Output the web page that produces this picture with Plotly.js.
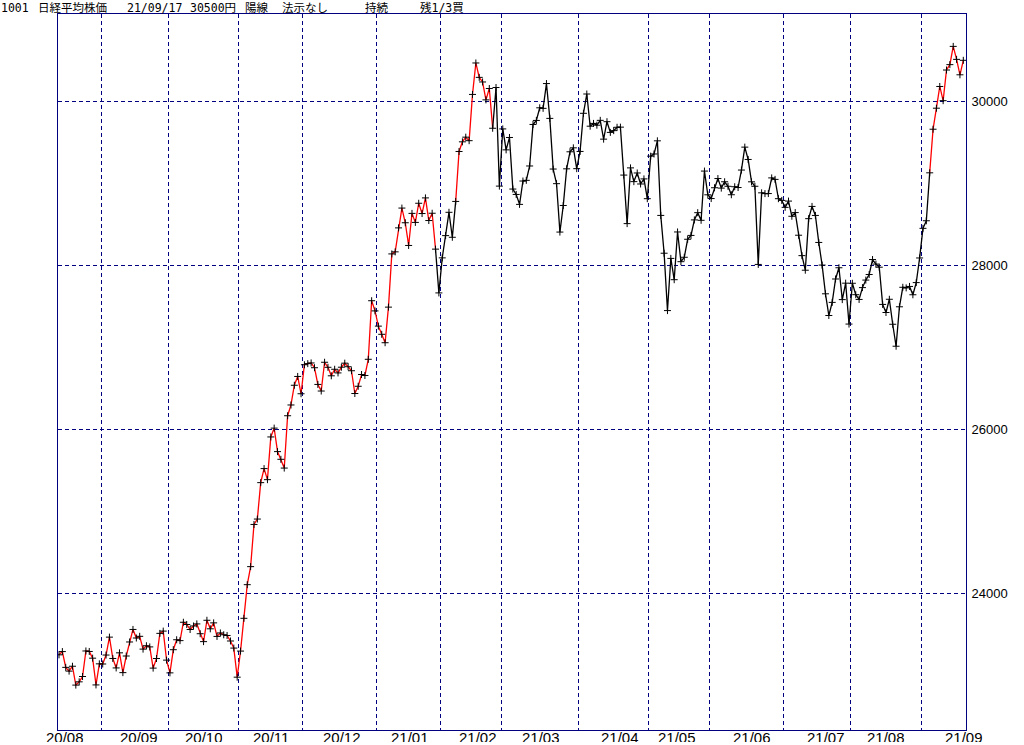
<!DOCTYPE html>
<html>
<head>
<meta charset="utf-8">
<script src="https://cdn.plot.ly/plotly-3.0.1.min.js"></script>
<style>html,body{margin:0;padding:0;background:#fff}#chart{width:1024px;height:745px}</style>
</head>
<body>
<div id="chart"></div>
<script>
// ---- data: Nikkei 225 daily closes (trading days only) ----
const dates = [
"20/08/13","20/08/14","20/08/17","20/08/18","20/08/19","20/08/20","20/08/21","20/08/24","20/08/25","20/08/26","20/08/27","20/08/28","20/08/31",
"20/09/01","20/09/02","20/09/03","20/09/04","20/09/07","20/09/08","20/09/09","20/09/10","20/09/11","20/09/14","20/09/15","20/09/16","20/09/17","20/09/18","20/09/23","20/09/24","20/09/25","20/09/28","20/09/29","20/09/30",
"20/10/02","20/10/05","20/10/06","20/10/07","20/10/08","20/10/09","20/10/12","20/10/13","20/10/14","20/10/15","20/10/16","20/10/19","20/10/20","20/10/21","20/10/22","20/10/23","20/10/26","20/10/27","20/10/28","20/10/29","20/10/30",
"20/11/02","20/11/04","20/11/05","20/11/06","20/11/09","20/11/10","20/11/11","20/11/12","20/11/13","20/11/16","20/11/17","20/11/18","20/11/19","20/11/20","20/11/24","20/11/25","20/11/26","20/11/27","20/11/30",
"20/12/01","20/12/02","20/12/03","20/12/04","20/12/07","20/12/08","20/12/09","20/12/10","20/12/11","20/12/14","20/12/15","20/12/16","20/12/17","20/12/18","20/12/21","20/12/22","20/12/23","20/12/24","20/12/25","20/12/28","20/12/29","20/12/30",
"21/01/04","21/01/05","21/01/06","21/01/07","21/01/08","21/01/12","21/01/13","21/01/14","21/01/15","21/01/18","21/01/19","21/01/20","21/01/21","21/01/22","21/01/25","21/01/26","21/01/27","21/01/28","21/01/29",
"21/02/01","21/02/02","21/02/03","21/02/04","21/02/05","21/02/08","21/02/09","21/02/10","21/02/12","21/02/15","21/02/16","21/02/17","21/02/18","21/02/19","21/02/22","21/02/24","21/02/25","21/02/26",
"21/03/01","21/03/02","21/03/03","21/03/04","21/03/05","21/03/08","21/03/09","21/03/10","21/03/11","21/03/12","21/03/15","21/03/16","21/03/17","21/03/18","21/03/19","21/03/22","21/03/23","21/03/24","21/03/25","21/03/26","21/03/29","21/03/30","21/03/31",
"21/04/01","21/04/02","21/04/05","21/04/06","21/04/07","21/04/08","21/04/09","21/04/12","21/04/13","21/04/14","21/04/15","21/04/16","21/04/19","21/04/20","21/04/21","21/04/22","21/04/23","21/04/26","21/04/27","21/04/28","21/04/30",
"21/05/06","21/05/07","21/05/10","21/05/11","21/05/12","21/05/13","21/05/14","21/05/17","21/05/18","21/05/19","21/05/20","21/05/21","21/05/24","21/05/25","21/05/26","21/05/27","21/05/28","21/05/31",
"21/06/01","21/06/02","21/06/03","21/06/04","21/06/07","21/06/08","21/06/09","21/06/10","21/06/11","21/06/14","21/06/15","21/06/16","21/06/17","21/06/18","21/06/21","21/06/22","21/06/23","21/06/24","21/06/25","21/06/28","21/06/29","21/06/30",
"21/07/01","21/07/02","21/07/05","21/07/06","21/07/07","21/07/08","21/07/09","21/07/12","21/07/13","21/07/14","21/07/15","21/07/16","21/07/19","21/07/20","21/07/21","21/07/26","21/07/27","21/07/28","21/07/29","21/07/30",
"21/08/02","21/08/03","21/08/04","21/08/05","21/08/06","21/08/10","21/08/11","21/08/12","21/08/13","21/08/16","21/08/17","21/08/18","21/08/19","21/08/20","21/08/23","21/08/24","21/08/25","21/08/26","21/08/27","21/08/30","21/08/31",
"21/09/01","21/09/02","21/09/03","21/09/06","21/09/07","21/09/08","21/09/09","21/09/10","21/09/13","21/09/14","21/09/15","21/09/16","21/09/17"
];
const closes = [
23249.61,23289.36,23096.75,23051.08,23110.61,22880.62,22920.30,22985.51,23296.77,23290.86,23208.86,22882.65,23139.76,
23138.07,23247.15,23465.53,23205.43,23089.95,23274.13,23032.54,23235.47,23406.49,23559.30,23454.89,23475.53,23319.37,23360.30,23346.49,23087.82,23204.62,23511.62,23539.10,23185.12,
23029.90,23312.14,23433.73,23422.82,23647.07,23619.69,23558.69,23601.78,23626.73,23507.23,23410.63,23671.13,23567.04,23639.46,23474.27,23516.59,23494.34,23485.80,23418.51,23331.94,22977.13,
23295.48,23695.23,24105.28,24325.23,24839.84,24905.59,25349.60,25520.88,25385.87,25906.93,26014.62,25728.14,25634.34,25527.37,26165.59,26296.86,26537.31,26644.71,26433.62,
26787.54,26800.98,26809.37,26751.24,26547.44,26467.08,26817.94,26756.24,26652.52,26732.44,26687.84,26757.40,26806.67,26763.39,26714.42,26436.39,26524.79,26668.35,26656.61,26854.03,27568.15,27444.17,
27258.38,27158.63,27055.94,27490.13,28139.03,28164.34,28456.59,28698.26,28519.18,28242.21,28633.46,28523.26,28756.86,28631.45,28822.29,28546.18,28635.21,28197.42,27663.39,
28091.05,28362.17,28646.50,28341.95,28779.19,29388.50,29505.93,29562.93,29520.07,30084.15,30467.75,30292.19,30236.09,30017.92,30156.03,29671.70,30168.27,28966.01,
29663.50,29408.17,29559.10,28930.11,28864.32,28743.25,29027.94,29036.56,29211.64,29717.83,29766.97,29921.09,29914.33,30216.75,29792.05,29174.15,28995.92,28405.52,28729.88,29176.70,29384.52,29432.70,29178.80,
29388.87,29854.00,30089.25,29696.63,29730.79,29708.98,29768.06,29538.73,29751.61,29620.99,29642.69,29683.37,29685.37,29100.38,28508.55,29188.17,29020.63,29126.23,28991.89,29053.97,28812.63,
29331.37,29357.82,29518.34,28608.59,28147.51,27448.01,28084.47,27824.83,28406.84,28044.45,28098.25,28317.83,28364.61,28553.98,28642.19,28549.01,29149.41,28860.08,
28814.34,28946.14,29058.11,28941.52,29019.24,28963.56,28860.80,28958.56,28948.73,29161.80,29441.30,29291.01,29018.33,28964.08,28010.93,28884.13,28874.89,28875.23,29066.18,29048.02,28812.61,28791.53,
28707.04,28783.28,28598.19,28643.21,28366.95,28118.03,27940.42,28569.02,28718.24,28608.49,28279.09,28003.08,27652.74,27388.16,27548.00,27833.29,27970.22,27581.66,27782.42,27283.59,
27781.02,27641.83,27584.08,27728.12,27820.04,27888.15,28070.51,28015.02,27977.15,27523.19,27424.47,27585.91,27281.17,27013.25,27494.24,27732.10,27724.80,27742.29,27641.14,27789.29,28089.54,
28451.02,28543.51,29128.11,29659.89,29916.14,30181.21,30008.19,30381.84,30447.37,30670.10,30511.71,30323.34,30500.05
];
// periods drawn in red (position held)
const holdStart = ["20/08/13","21/02/05","21/09/03"];
const holdEnd   = ["21/01/28","21/02/24","21/09/17"];
const yTicks = [24000, 26000, 28000, 30000];
const headerWords = ["1001", "日経平均株価", "21/09/17", "30500円", "陽線", "法示なし", "持続", "残1/3買"];

// ---- build ----
const idx = dates.map((d,i)=>i);
function held(i){
  for(let k=0;k<holdStart.length;k++){ if(dates[i]>=holdStart[k] && dates[i]<=holdEnd[k]) return true; }
  return false;
}
const segRed = [];
for(let i=1;i<dates.length;i++) segRed[i] = held(i-1) && held(i);
const traces = [];
let runStart = 0;
for(let i=1;i<dates.length;i++){
  const last = (i===dates.length-1) || (segRed[i+1]!==segRed[i]);
  if(last){
    const xs=[], ys=[];
    for(let j=runStart;j<=i;j++){ xs.push(idx[j]); ys.push(closes[j]); }
    traces.push({x:xs,y:ys,type:'scatter',mode:'lines',line:{color:segRed[i]?'#ff0000':'#000000',width:1.3},hoverinfo:'skip',showlegend:false});
    runStart = i;
  }
}
traces.push({x:idx,y:closes,type:'scatter',mode:'markers',marker:{symbol:'cross-thin',size:5,color:'#000',line:{width:1,color:'#000'}},hoverinfo:'skip',showlegend:false});

// month boundaries (grid) and month labels
const monthKey = dates.map(d=>d.slice(0,5));
const bounds = [];
for(let i=1;i<dates.length;i++) if(monthKey[i]!==monthKey[i-1]) bounds.push(i-0.5);
const monthLabels = [...new Set(monthKey)];

// ---- layout (positions / styles) ----
const labelX = [1.64, 23.8, 43.0, 63.1, 84.3, 104.4, 124.5, 143.4, 166.9, 183.8, 206.0, 228.1, 246.0, 269.2];
const headerPx = [1, 37, 126, 189, 244, 281, 364, 419];
const headerFont = {family:'"DejaVu Sans Mono","Noto Sans CJK JP",monospace',size:11.5,color:'#000'};
const W=908,H=716,L=58,B=15;
const annotations = monthLabels.map((m,k)=>({x:labelX[k],y:0,xref:'x',yref:'paper',yanchor:'top',xanchor:'center',
  yshift:2,height:13,valign:'top',borderpad:0,showarrow:false,text:m,
  font:{family:'"Liberation Sans Narrow","Arial Narrow","Liberation Sans",sans-serif',size:15,color:'#000'}}));
headerWords.slice(1).forEach((w,k)=>{
  annotations.push({x:(headerPx[k+1]-L)/W,y:(745-8-B)/H,xref:'paper',yref:'paper',xanchor:'left',yanchor:'middle',
    borderpad:0,height:13,showarrow:false,text:w,font:headerFont});
});

const navy = '#000080';
const layout = {
  width:1024, height:745,
  margin:{l:58,r:58,t:14,b:15,pad:0},
  paper_bgcolor:'#fff', plot_bgcolor:'#fff',
  showlegend:false,
  title:{text:headerWords[0],x:headerPx[0]/1024,xanchor:'left',xref:'container',y:1-8/745,yanchor:'middle',yref:'container',
    font:headerFont},
  xaxis:{range:[-0.3,269.8],tickmode:'array',tickvals:bounds,showticklabels:false,ticks:'',
    showgrid:true,gridcolor:navy,gridwidth:1,griddash:'4px,3px',zeroline:false,
    showline:true,linecolor:navy,linewidth:1,mirror:true,fixedrange:true},
  yaxis:{range:[22333,31065],side:'right',tickmode:'array',tickvals:yTicks,ticktext:yTicks.map(String),ticks:'',
    ticklabelstandoff:2,
    tickfont:{family:'"Liberation Sans",Arial,sans-serif',size:13,color:'#000'},
    showgrid:true,gridcolor:navy,gridwidth:1,griddash:'4px,3px',zeroline:false,
    showline:true,linecolor:navy,linewidth:1,mirror:true,fixedrange:true},
  annotations:annotations
};
Plotly.newPlot('chart',traces,layout,{displayModeBar:false,staticPlot:true});
</script>
</body>
</html>
